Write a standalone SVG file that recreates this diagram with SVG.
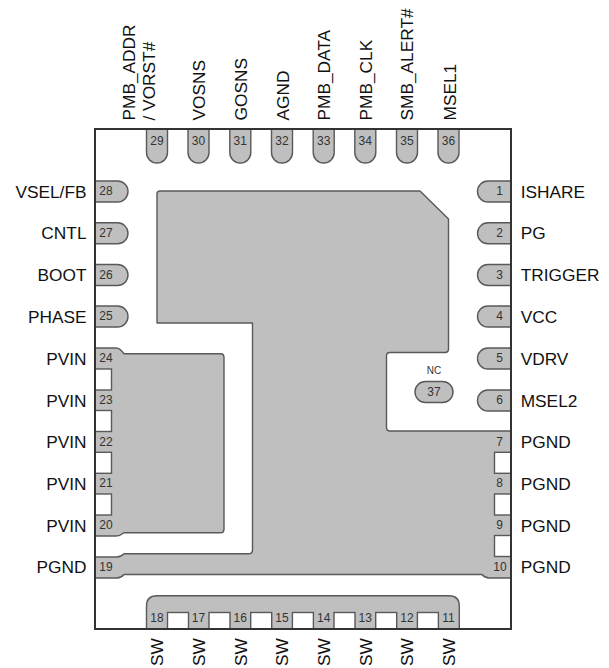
<svg xmlns="http://www.w3.org/2000/svg" width="609" height="668" viewBox="0 0 609 668">
<style>
.pad{fill:#bfbfbf;stroke:#595959;stroke-width:1.4;stroke-linejoin:round}
.n{font-family:"Liberation Sans",Arial,sans-serif;font-size:12px;fill:#333;text-anchor:middle}
.l{font-family:"Liberation Sans",Arial,sans-serif;font-size:17.3px;fill:#111}
.e{text-anchor:end}
.nt{fill:#fff;stroke:#595959;stroke-width:1.4}
</style>
<rect width="609" height="668" fill="#fff"/>
<g id="package"><rect x="95" y="129" width="416" height="500" fill="#fff" stroke="none"/></g>
<g id="pad-main"><path class="pad" d="M160 191H420L448.5 219V349Q448.5 352.500 445 352.500H390Q386.500 352.500 386.500 356V427.500Q386.500 431 390 431H511V578H489Q485 578 482 574.500H124Q121 578 117 578H95V557H117Q121 557 124 553.800H248.500Q252.500 553.800 252.500 550V323H157V194Q157 191 160 191Z"/></g>
<g id="pad-pvin"><path class="pad" d="M95 348H116Q120 348 124 353.800H220.500Q224 353.800 224 357.500V529Q224 532.800 220.500 532.800H124Q120 536 116 536H95Z"/></g>
<g id="pad-sw"><path class="pad" d="M146.500 629V606Q146.500 595.800 157 595.800H449Q459.300 595.800 459.300 606V629Z"/></g>
<g id="notches">
<rect class="nt" x="95" y="369" width="16.500" height="21"/><rect class="nt" x="95" y="410.500" width="16.500" height="21"/><rect class="nt" x="95" y="452.300" width="16.500" height="21"/><rect class="nt" x="95" y="494" width="16.500" height="21"/>
<rect class="nt" x="494.500" y="452.300" width="16.500" height="21"/><rect class="nt" x="494.500" y="494" width="16.500" height="21"/><rect class="nt" x="494.500" y="535.500" width="16.500" height="21"/>
<rect class="nt" x="167.500" y="612.500" width="21" height="16.500"/><rect class="nt" x="209" y="612.500" width="21" height="16.500"/><rect class="nt" x="250.700" y="612.500" width="21" height="16.500"/><rect class="nt" x="292.400" y="612.500" width="21" height="16.500"/><rect class="nt" x="334" y="612.500" width="21" height="16.500"/><rect class="nt" x="375.700" y="612.500" width="21" height="16.500"/><rect class="nt" x="417.400" y="612.500" width="21" height="16.500"/>
</g>
<g id="pins-top">
<path class="pad" d="M146.500 129V152.500a10.500 10.500 0 0 0 21 0V129Z"/><path class="pad" d="M188 129V152.500a10.500 10.500 0 0 0 21 0V129Z"/><path class="pad" d="M229.800 129V152.500a10.500 10.500 0 0 0 21 0V129Z"/><path class="pad" d="M271.500 129V152.500a10.500 10.500 0 0 0 21 0V129Z"/><path class="pad" d="M313.200 129V152.500a10.500 10.500 0 0 0 21 0V129Z"/><path class="pad" d="M354.800 129V152.500a10.500 10.500 0 0 0 21 0V129Z"/><path class="pad" d="M396.500 129V152.500a10.500 10.500 0 0 0 21 0V129Z"/><path class="pad" d="M438 129V152.500a10.500 10.500 0 0 0 21 0V129Z"/>
</g>
<g id="pins-left">
<path class="pad" d="M95 181H117.500a10.500 10.500 0 0 1 0 21H95Z"/><path class="pad" d="M95 222.800H117.500a10.500 10.500 0 0 1 0 21H95Z"/><path class="pad" d="M95 264.500H117.500a10.500 10.500 0 0 1 0 21H95Z"/><path class="pad" d="M95 306H117.500a10.500 10.500 0 0 1 0 21H95Z"/>
</g>
<g id="pins-right">
<path class="pad" d="M511 181H488a10.500 10.500 0 0 0 0 21H511Z"/><path class="pad" d="M511 222.800H488a10.500 10.500 0 0 0 0 21H511Z"/><path class="pad" d="M511 264.500H488a10.500 10.500 0 0 0 0 21H511Z"/><path class="pad" d="M511 306H488a10.500 10.500 0 0 0 0 21H511Z"/><path class="pad" d="M511 348H488a10.500 10.500 0 0 0 0 21H511Z"/><path class="pad" d="M511 390H488a10.500 10.500 0 0 0 0 21H511Z"/>
</g>
<g id="pad-37"><rect class="pad" x="415" y="381.500" width="38" height="21" rx="10.500"/></g>
<rect id="outline" x="95" y="129" width="416" height="500" fill="none" stroke="#333" stroke-width="2"/>
<g id="numbers">
<text class="n" x="157" y="144.500">29</text><text class="n" x="198.500" y="144.500">30</text><text class="n" x="240.300" y="144.500">31</text><text class="n" x="282" y="144.500">32</text><text class="n" x="323.700" y="144.500">33</text><text class="n" x="365.300" y="144.500">34</text><text class="n" x="407" y="144.500">35</text><text class="n" x="448.500" y="144.500">36</text>
<text class="n" x="106" y="195">28</text><text class="n" x="106" y="237">27</text><text class="n" x="106" y="278.500">26</text><text class="n" x="106" y="320">25</text><text class="n" x="106" y="362">24</text><text class="n" x="106" y="404">23</text><text class="n" x="106" y="445.500">22</text><text class="n" x="106" y="487">21</text><text class="n" x="106" y="529">20</text><text class="n" x="106" y="571">19</text>
<text class="n" x="499.500" y="195">1</text><text class="n" x="499.500" y="237">2</text><text class="n" x="499.500" y="278.500">3</text><text class="n" x="499.500" y="320">4</text><text class="n" x="499.500" y="362">5</text><text class="n" x="499.500" y="404">6</text><text class="n" x="499.500" y="445.500">7</text><text class="n" x="499.500" y="487">8</text><text class="n" x="499.500" y="529">9</text><text class="n" x="500" y="571">10</text>
<text class="n" x="157" y="622">18</text><text class="n" x="198.500" y="622">17</text><text class="n" x="240.300" y="622">16</text><text class="n" x="282" y="622">15</text><text class="n" x="323.700" y="622">14</text><text class="n" x="365.300" y="622">13</text><text class="n" x="407" y="622">12</text><text class="n" x="448.500" y="622">11</text>
<text class="n" x="434" y="396" style="font-size:12px">37</text><text class="n" x="434" y="374" style="font-size:10px">NC</text>
</g>
<g id="labels-left">
<text class="l e" x="86.500" y="198">VSEL/FB</text><text class="l e" x="86.500" y="239.300">CNTL</text><text class="l e" x="86.500" y="281">BOOT</text><text class="l e" x="86.500" y="322.700">PHASE</text><text class="l e" x="86.500" y="364.700">PVIN</text><text class="l e" x="86.500" y="406.500">PVIN</text><text class="l e" x="86.500" y="448">PVIN</text><text class="l e" x="86.500" y="490">PVIN</text><text class="l e" x="86.500" y="531.500">PVIN</text><text class="l e" x="86.500" y="573">PGND</text>
</g>
<g id="labels-right">
<text class="l" x="520.700" y="198">ISHARE</text><text class="l" x="520.700" y="239.300">PG</text><text class="l" x="520.700" y="281">TRIGGER</text><text class="l" x="520.700" y="322.700">VCC</text><text class="l" x="520.700" y="364.700">VDRV</text><text class="l" x="520.700" y="406.500">MSEL2</text><text class="l" x="520.700" y="448">PGND</text><text class="l" x="520.700" y="490">PGND</text><text class="l" x="520.700" y="531.500">PGND</text><text class="l" x="520.700" y="573">PGND</text>
</g>
<g id="labels-top">
<text class="l" transform="translate(135 120.500) rotate(-90)">PMB_ADDR</text><text class="l" transform="translate(155 120.500) rotate(-90)">/ VORST#</text><text class="l" transform="translate(205 120.500) rotate(-90)">VOSNS</text><text class="l" transform="translate(246.700 120.500) rotate(-90)">GOSNS</text><text class="l" transform="translate(289 120.500) rotate(-90)">AGND</text><text class="l" transform="translate(330 120.500) rotate(-90)">PMB_DATA</text><text class="l" transform="translate(372 120.500) rotate(-90)">PMB_CLK</text><text class="l" transform="translate(413 120.500) rotate(-90)">SMB_ALERT#</text><text class="l" transform="translate(456 120.500) rotate(-90)">MSEL1</text>
</g>
<g id="labels-bottom">
<text class="l" transform="translate(163 666) rotate(-90)">SW</text><text class="l" transform="translate(205 666) rotate(-90)">SW</text><text class="l" transform="translate(246.700 666) rotate(-90)">SW</text><text class="l" transform="translate(288 666) rotate(-90)">SW</text><text class="l" transform="translate(330 666) rotate(-90)">SW</text><text class="l" transform="translate(371.700 666) rotate(-90)">SW</text><text class="l" transform="translate(413 666) rotate(-90)">SW</text><text class="l" transform="translate(455 666) rotate(-90)">SW</text>
</g>
</svg>
